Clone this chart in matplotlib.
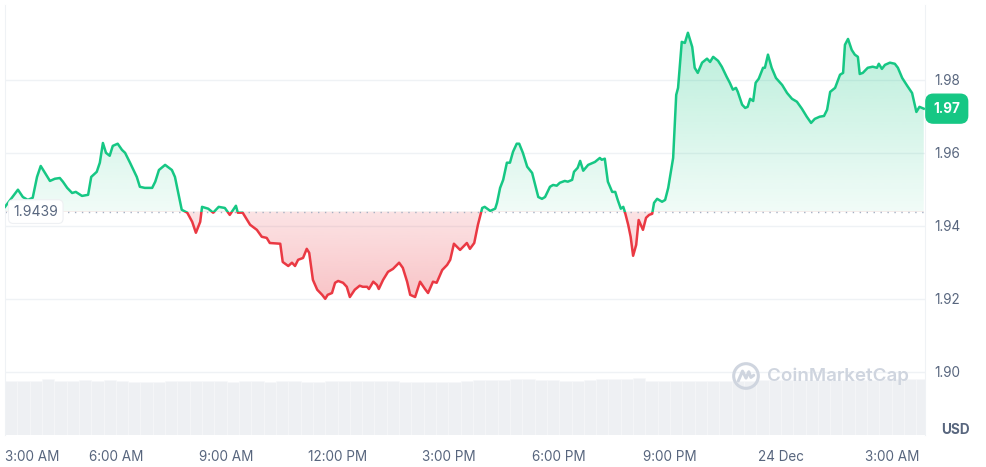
import numpy as np
import matplotlib.pyplot as plt
import matplotlib.dates as mdates
import matplotlib.colors as mcolors
from matplotlib.patches import Rectangle, Circle
from matplotlib.path import Path
from datetime import datetime, timedelta

plt.rcParams['font.family'] = ['Inter', 'DejaVu Sans']

start = datetime(2023, 12, 23, 3, 0)

# minutes after 3:00 AM and price in USD
minutes = [0, 21, 29, 37, 45, 52, 58, 65, 73, 81, 89, 94, 101, 109, 115, 125, 135, 140, 149, 154,
           159, 164, 170, 175, 183, 190, 195, 203, 211, 214, 219, 227, 239, 244, 250, 260, 271, 276, 281, 287,
           296, 304, 310, 317, 320, 330, 338, 347, 357, 365, 375, 378, 386, 398, 409, 417, 425, 430, 447, 451,
           460, 466, 471, 476, 484, 490, 494, 500, 507, 515, 520, 524, 531, 536, 541, 549, 555, 560, 568, 576,
           581, 588, 591, 598, 604, 607, 614, 622, 630, 640, 646, 653, 658, 666, 674, 682, 687, 695, 701, 710,
           718, 723, 729, 739, 750, 755, 762, 768, 775, 779, 788, 796, 799, 804, 809, 815, 820, 825, 831, 835,
           841, 848, 856, 861, 866, 872, 877, 885, 890, 896, 901, 909, 914, 921, 924, 930, 934, 939, 947, 958,
           966, 969, 974, 979, 986, 991, 995, 1000, 1004, 1007, 1012, 1016, 1020, 1025, 1029, 1036, 1041, 1046, 1051, 1054,
           1059, 1067, 1072, 1077, 1085, 1090, 1093, 1099, 1104, 1109, 1116, 1120, 1125, 1132, 1140, 1145, 1150, 1158, 1164, 1172,
           1177, 1182, 1187, 1190, 1197, 1202, 1206, 1210, 1215, 1219, 1224, 1231, 1234, 1239, 1245, 1252, 1262, 1270, 1278, 1286,
           1294, 1302, 1309, 1315, 1323, 1330, 1335, 1340, 1348, 1356, 1361, 1364, 1369, 1375, 1380, 1385, 1388, 1393, 1401, 1409,
           1416, 1419, 1424, 1429, 1437, 1445, 1450, 1457, 1465, 1473, 1480, 1485, 1492]
price = [1.9452, 1.9499, 1.9479, 1.9471, 1.9477, 1.9534, 1.9564, 1.9545, 1.9523, 1.9529, 1.9531, 1.9521, 1.9504, 1.9490, 1.9493, 1.9482, 1.9485, 1.9534, 1.9548, 1.9573,
         1.9627, 1.9600, 1.9592, 1.9619, 1.9625, 1.9608, 1.9600, 1.9573, 1.9545, 1.9534, 1.9507, 1.9504, 1.9504, 1.9521, 1.9553, 1.9567, 1.9553, 1.9534, 1.9493, 1.9444,
         1.9436, 1.9411, 1.9381, 1.9411, 1.9452, 1.9447, 1.9436, 1.9452, 1.9449, 1.9430, 1.9455, 1.9436, 1.9436, 1.9403, 1.9389, 1.9370, 1.9367, 1.9353, 1.9351, 1.9301,
         1.9290, 1.9299, 1.9290, 1.9307, 1.9312, 1.9337, 1.9326, 1.9252, 1.9225, 1.9211, 1.9200, 1.9211, 1.9216, 1.9244, 1.9249, 1.9244, 1.9233, 1.9205, 1.9225, 1.9236,
         1.9233, 1.9233, 1.9227, 1.9247, 1.9238, 1.9227, 1.9252, 1.9274, 1.9282, 1.9299, 1.9285, 1.9247, 1.9211, 1.9205, 1.9247, 1.9227, 1.9216, 1.9247, 1.9244, 1.9279,
         1.9293, 1.9307, 1.9351, 1.9334, 1.9353, 1.9337, 1.9353, 1.9403, 1.9449, 1.9452, 1.9441, 1.9447, 1.9463, 1.9504, 1.9526, 1.9573, 1.9573, 1.9603, 1.9625, 1.9625,
         1.9600, 1.9562, 1.9545, 1.9512, 1.9479, 1.9474, 1.9479, 1.9507, 1.9512, 1.9510, 1.9518, 1.9523, 1.9521, 1.9526, 1.9548, 1.9559, 1.9578, 1.9551, 1.9567, 1.9575,
         1.9586, 1.9581, 1.9584, 1.9521, 1.9493, 1.9493, 1.9471, 1.9447, 1.9452, 1.9436, 1.9403, 1.9370, 1.9318, 1.9348, 1.9416, 1.9389, 1.9422, 1.9430, 1.9433, 1.9463,
         1.9474, 1.9466, 1.9471, 1.9504, 1.9586, 1.9759, 1.9778, 1.9904, 1.9901, 1.9929, 1.9890, 1.9833, 1.9819, 1.9847, 1.9858, 1.9849, 1.9863, 1.9852, 1.9836, 1.9808,
         1.9792, 1.9773, 1.9778, 1.9767, 1.9732, 1.9723, 1.9726, 1.9748, 1.9742, 1.9792, 1.9803, 1.9833, 1.9833, 1.9869, 1.9833, 1.9805, 1.9786, 1.9764, 1.9748, 1.9740,
         1.9721, 1.9699, 1.9682, 1.9693, 1.9699, 1.9701, 1.9718, 1.9767, 1.9778, 1.9814, 1.9819, 1.9896, 1.9912, 1.9882, 1.9869, 1.9863, 1.9816, 1.9819, 1.9833, 1.9836,
         1.9833, 1.9844, 1.9830, 1.9841, 1.9847, 1.9844, 1.9833, 1.9805, 1.9784, 1.9764, 1.9712, 1.9726, 1.9721]

# 20-minute volume bars (relative units)
volume = [5.43, 5.43, 5.43, 5.57, 5.43, 5.40, 5.47, 5.43, 5.47, 5.40, 5.33, 5.33, 5.33, 5.37, 5.37, 5.40, 5.37, 5.37, 5.30, 5.40,
          5.37, 5.33, 5.37, 5.37, 5.33, 5.30, 5.40, 5.43, 5.40, 5.43, 5.43, 5.37, 5.30, 5.30, 5.33, 5.33, 5.30, 5.37, 5.50, 5.50,
          5.47, 5.57, 5.57, 5.50, 5.50, 5.43, 5.43, 5.47, 5.60, 5.57, 5.57, 5.67, 5.40, 5.40, 5.43, 5.40, 5.40, 5.37, 5.37, 5.43,
          5.43, 5.47, 5.47, 5.50, 5.47, 5.50, 5.53, 5.50, 5.50, 5.53, 5.53, 5.57, 5.57, 5.57, 5.57, 5.57]
vol_step_min = 20

base_price = 1.9439
last_label = "1.97"
y_ticks = [1.90, 1.92, 1.94, 1.96, 1.98]
x_tick_hours = [0, 3, 6, 9, 12, 15, 18, 21, 24]
x_tick_labels = ["3:00 AM", "6:00 AM", "9:00 AM", "12:00 PM", "3:00 PM", "6:00 PM", "9:00 PM", "24 Dec", "3:00 AM"]

GREEN = "#16c784"
RED = "#ea3943"
GRAY = "#58667e"
GRID = "#eff2f5"

t = mdates.date2num([start + timedelta(minutes=m) for m in minutes])
p = np.array(price)
x0 = mdates.date2num(start)
x1 = mdates.date2num(start + timedelta(minutes=1494))

fig = plt.figure(figsize=(9.86, 4.67), dpi=100)
rect = [5 / 986, 32 / 467, 920 / 986, 430 / 467]

# volume underneath
vax = fig.add_axes(rect, zorder=0)
vt = mdates.date2num([start + timedelta(minutes=vol_step_min * i + vol_step_min / 2) for i in range(len(volume))])
vax.bar(vt, volume, width=vol_step_min / 1440, color="#eef0f3", edgecolor="#f7f8fa", linewidth=0.4)
vax.set_ylim(0, 43.0)
vax.set_xlim(x0, x1)
vax.axis("off")

ax = fig.add_axes(rect, zorder=1)
ax.set_facecolor("none")
ylo, yhi = 1.8827, 2.0005

# gradient fills clipped to the area between price and base line
verts = np.column_stack([np.r_[t, t[::-1], t[0]], np.r_[p, np.full(len(p), base_price), p[0]]])
clip = Path(verts, closed=True)


def gradient(color, a_low, a_high, y_from, y_to):
    n = 256
    rgba = np.zeros((n, 1, 4))
    rgba[..., :3] = mcolors.to_rgb(color)
    rgba[:, 0, 3] = np.linspace(a_low, a_high, n)
    im = ax.imshow(rgba, extent=[t[0], t[-1], y_from, y_to], origin="lower",
                   aspect="auto", interpolation="bilinear", zorder=1)
    im.set_clip_path(clip, transform=ax.transData)


gradient(GREEN, 0.06, 0.30, base_price, p.max())
gradient(RED, 0.30, 0.14, p.min(), base_price)

# price line, green above base and red below
up, = ax.plot(t, p, color=GREEN, lw=1.8, zorder=3, solid_joinstyle="round")
dn, = ax.plot(t, p, color=RED, lw=1.8, zorder=3, solid_joinstyle="round")
up.set_clip_path(Rectangle((x0, base_price), x1 - x0, yhi - base_price, transform=ax.transData))
dn.set_clip_path(Rectangle((x0, ylo), x1 - x0, base_price - ylo, transform=ax.transData))

ax.axhline(base_price, color="#a6b0c3", lw=1, ls=(0, (1, 4)), zorder=2)

ax.set_xlim(x0, x1)
ax.set_ylim(ylo, yhi)

ax.set_yticks(y_ticks)
ax.set_yticklabels([f"{v:.2f}" for v in y_ticks])
ax.yaxis.tick_right()
ax.grid(axis="y", color=GRID, lw=1, zorder=0)
ax.set_axisbelow(True)

ax.set_xticks(mdates.date2num([start + timedelta(hours=h) for h in x_tick_hours]))
ax.set_xticklabels(x_tick_labels)
ax.get_xticklabels()[0].set_horizontalalignment("left")

ax.tick_params(axis="x", length=0, pad=11, labelsize=9.75, labelcolor=GRAY)
ax.tick_params(axis="y", length=0, pad=7, labelsize=9.75, labelcolor=GRAY)

for s in ["top", "bottom"]:
    ax.spines[s].set_visible(False)
for s in ["left", "right"]:
    ax.spines[s].set_color(GRID)

# base price tag on the left
ax.annotate(f"{base_price}", xy=(0, base_price), xycoords=("axes fraction", "data"),
            xytext=(6, 0), textcoords="offset points", ha="left", va="center",
            fontsize=10, color=GRAY, zorder=5,
            bbox=dict(boxstyle="round,pad=0.35", fc="white", ec="#eef0f3", lw=0.8))

# last price tag on the right
ax.annotate(last_label, xy=(1, p[-1]), xycoords=("axes fraction", "data"),
            xytext=(6, 0), textcoords="offset points", ha="left", va="center",
            fontsize=9.75, color="white", fontweight="bold", zorder=5, annotation_clip=False,
            bbox=dict(boxstyle="round,pad=0.55", fc=GREEN, ec=GREEN))

fig.text(955 / 986, 1 - 430 / 467, "USD", ha="center", va="center",
         fontsize=9.75, color=GRAY, fontweight="bold")

# watermark
fig.text(838 / 986, 1 - 376 / 467, "CoinMarketCap", ha="center", va="center",
         fontsize=13.5, color="#cfd5df", fontweight="semibold")
lax = fig.add_axes([732 / 986, 1 - 390 / 467, 28 / 986, 28 / 467], zorder=2)
lax.set_xlim(-1, 1)
lax.set_ylim(-1, 1)
lax.axis("off")
lax.add_patch(Circle((0, 0), 0.88, fill=False, ec="#cfd5df", lw=2.2))
lax.plot([-0.55, -0.25, 0.0, 0.2, 0.35, 0.55], [-0.35, 0.35, -0.15, 0.3, -0.1, 0.05],
         color="#cfd5df", lw=2.2, solid_capstyle="round", solid_joinstyle="round")

fig.savefig("out.png", dpi=100)
